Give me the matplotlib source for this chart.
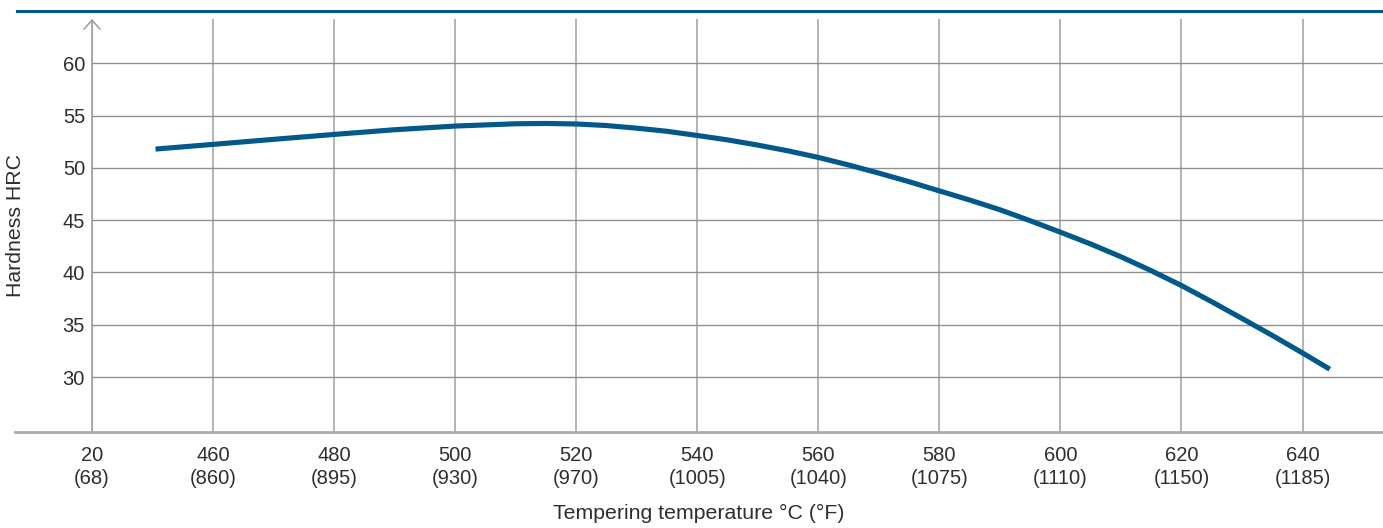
import matplotlib
matplotlib.use("Agg")
import matplotlib.pyplot as plt
from matplotlib.lines import Line2D

# ---- data ----
tick_celsius = [20, 460, 480, 500, 520, 540, 560, 580, 600, 620, 640]
tick_fahrenheit = [68, 860, 895, 930, 970, 1005, 1040, 1075, 1110, 1150, 1185]
# first tick ("20") sits at the axis break, where 440 °C would be
tick_positions = [440] + tick_celsius[1:]

temper_c = [450.5, 460, 470, 480, 490, 500, 510, 515, 520, 525, 530, 535, 540,
            545, 550, 555, 560, 565, 570, 575, 580, 585, 590, 595, 600, 605,
            610, 615, 620, 625, 630, 635, 640, 644.5]
hardness = [51.8, 52.25, 52.73, 53.2, 53.65, 54.0, 54.22, 54.25, 54.2, 54.05, 53.8,
            53.5, 53.1, 52.68, 52.18, 51.63, 51.0, 50.28, 49.5, 48.68, 47.8, 46.93,
            46.0, 44.95, 43.85, 42.72, 41.5, 40.17, 38.75, 37.2, 35.6, 33.98, 32.3,
            30.75]

y_ticks = [30, 35, 40, 45, 50, 55, 60]

plt.rcParams['font.family'] = ['Liberation Sans', 'DejaVu Sans']
text_color = '#2e2e2e'
blue = '#00598a'

W, H = 1383, 528
fig = plt.figure(figsize=(W / 100, H / 100), dpi=100)
ax_left, ax_right = 92 / W, 1.0
ax_bottom, ax_top = 1 - 431.7 / H, 1 - 19 / H
ax = fig.add_axes([ax_left, ax_bottom, ax_right - ax_left, ax_top - ax_bottom])

ax.set_xlim(440, 653.3)
ax.set_ylim(24.77, 64.24)

ax.plot(temper_c, hardness, color=blue, lw=3.7, solid_capstyle='butt',
        solid_joinstyle='round', zorder=5)

ax.set_xticks(tick_positions)
ax.set_xticklabels([f"{c}\n({f})" for c, f in zip(tick_celsius, tick_fahrenheit)],
                   fontsize=14.5, color=text_color, linespacing=1.22)
ax.set_yticks(y_ticks)
ax.set_yticklabels([str(v) for v in y_ticks], fontsize=14.5, color=text_color)
ax.tick_params(axis='both', length=0)
ax.tick_params(axis='x', pad=10.5)
ax.tick_params(axis='y', pad=5)

ax.grid(axis='y', color='#8f8f8f', lw=1.0)
ax.grid(axis='x', color='#b3b3b3', lw=1.4)
ax.set_axisbelow(True)
for s in ax.spines.values():
    s.set_visible(False)

# y axis with open arrow head
ax.annotate('', xy=(0, 1), xycoords='axes fraction', xytext=(0, 0),
            textcoords='axes fraction',
            arrowprops=dict(arrowstyle='->,head_length=6.5,head_width=5.8',
                            color='#9a9a9a', lw=1.1, shrinkA=0, shrinkB=0,
                            mutation_scale=1))

# bottom axis line extending left of the plot
ax.plot([-(92 - 15) / 1291, 1], [24.77, 24.77], transform=ax.get_yaxis_transform(),
        color='#ababab', lw=2.0, clip_on=False, zorder=6)

ax.set_ylabel('Hardness HRC', fontsize=15.3, color=text_color)
ax.yaxis.set_label_coords(-0.052, 0.5)
ax.set_xlabel('Tempering temperature °C (°F)', fontsize=15.3, color=text_color)
ax.xaxis.set_label_coords(0.47, -0.174)

# top rule
fig.add_artist(Line2D([17 / W, 1], [1 - 11 / H, 1 - 11 / H], color=blue, lw=2.2))

fig.savefig('out.png', dpi=100)
